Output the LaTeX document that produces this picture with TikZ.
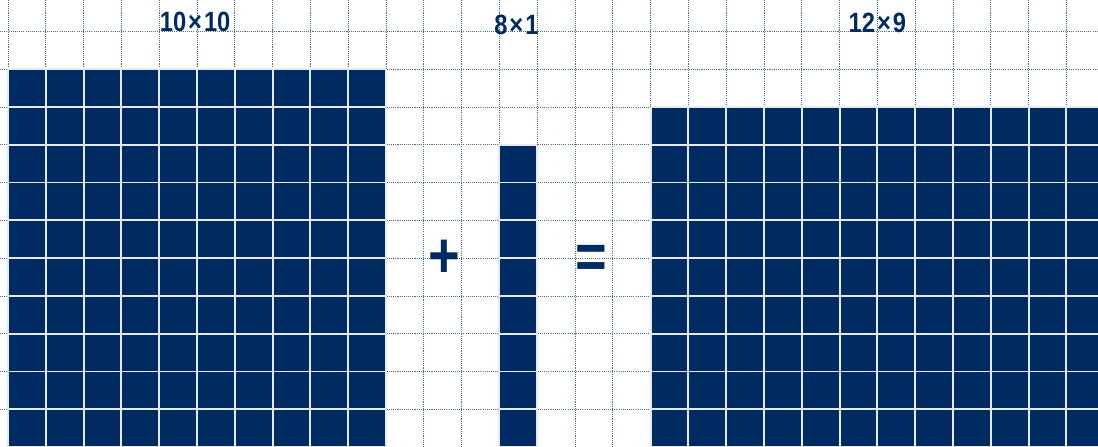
\documentclass[tikz,border=0pt]{standalone}
\usepackage{fontspec}
\newfontfamily\labelfont[FakeStretch=0.85]{Liberation Sans}
\definecolor{navy}{HTML}{002B62}
\begin{document}
\begin{tikzpicture}[x=1cm,y=1cm,
  gridline/.style={navy!70, line width=0.5pt, dash pattern=on 0.8pt off 0.8pt},
  cellfill/.style={fill=navy},
  cellsep/.style={white!90!navy, line width=1.4pt},
  dimlabel/.style={navy, font=\labelfont\bfseries\fontsize{21}{24}\selectfont, anchor=base, inner sep=0pt},
  opsign/.style={navy, font=\labelfont\bfseries\fontsize{48}{48}\selectfont, anchor=base, inner sep=0pt}]
\useasboundingbox (-0.212,0.03) rectangle (28.836,11.83);
\clip (-0.212,0.03) rectangle (28.836,11.83);

% Background grid
\foreach \x in {0,...,28}
  \draw[gridline] (\x,0) -- (\x,11.83);
\foreach \y in {1,...,11}
  \draw[gridline] (-0.212,\y) -- (28.836,\y);

% Blocks of unit cells
\foreach \x/\w/\h in {0/10/10, 13/1/8, 17/12/9} {
  \fill[cellfill] (\x,0) rectangle ({\x+\w},\h);
  \draw[cellsep] (\x,0) grid ({\x+\w},\h);
}

% Sizes
\node[dimlabel] (sizeA) at (4.95,11.0) {10\kern1.5pt×\kern1.5pt10};
\node[dimlabel] (sizeB) at (13.45,10.93) {8\kern1.5pt×\kern1.5pt1};
\node[dimlabel] (sizeC) at (23,10.97) {12\kern1.5pt×\kern1.5pt9};

% Signs
\node[opsign] (plus) at (11.53,4.5) {+};
\node[opsign] (equals) at (15.42,4.45) {=};
\end{tikzpicture}
\end{document}
